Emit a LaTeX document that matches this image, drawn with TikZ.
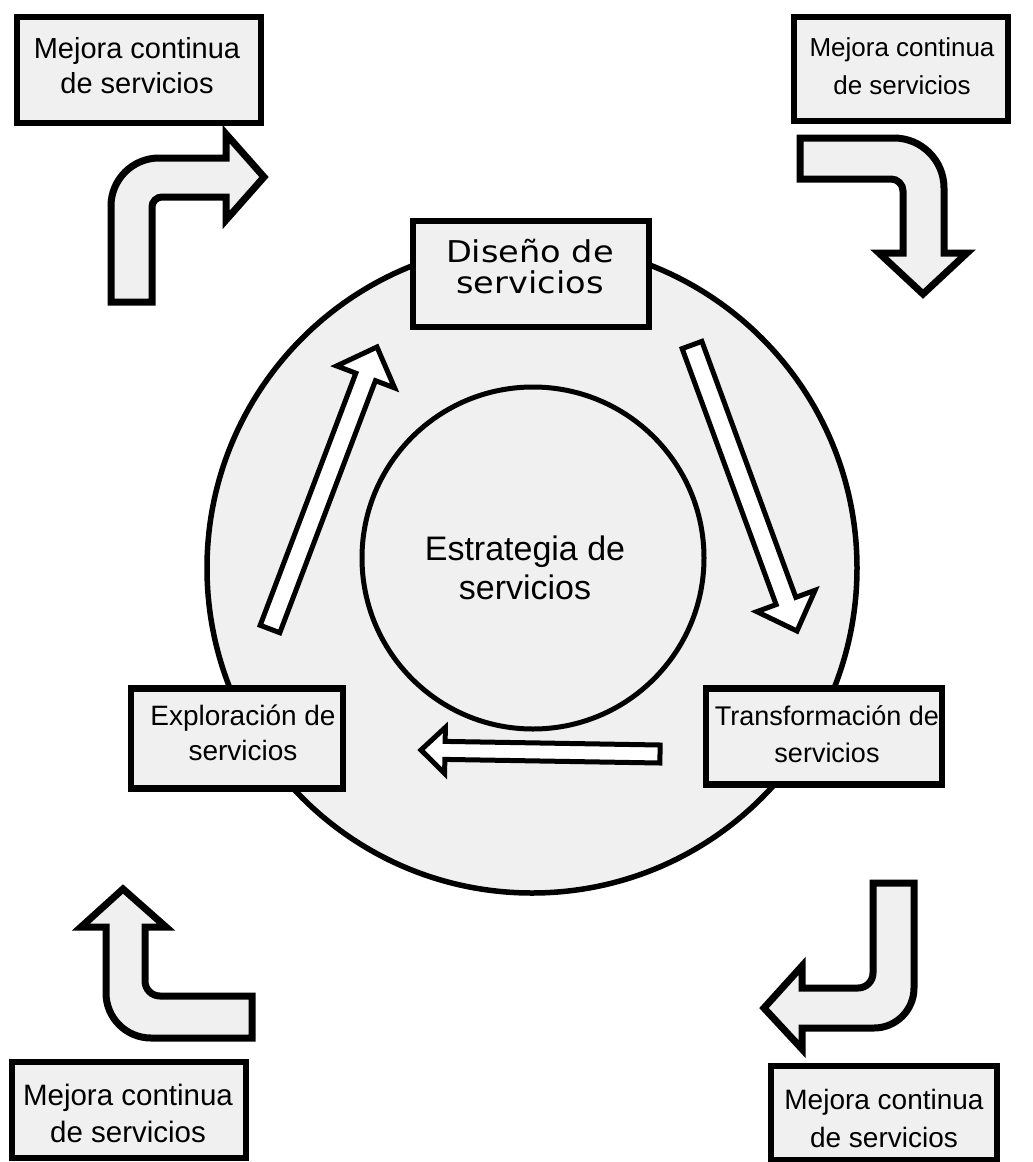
\documentclass[tikz,border=0pt]{standalone}
\usepackage{fontspec}
\setmainfont{Liberation Sans}
\newfontfamily\wfont[FakeStretch=1.12]{DejaVu Sans}
\usetikzlibrary{calc}
\definecolor{fillg}{RGB}{240,240,240}
\tikzset{
  box/.style={draw, rectangle, line width=6.5pt, fill=fillg, inner sep=0pt},
  txt/.style={align=center, inner sep=0pt},
  blk/.style={draw, line width=7pt, fill=fillg, line join=miter},
  thinarrow/.style={draw, line width=5pt, fill=white, line join=miter},
}
\begin{document}
\begin{tikzpicture}[x=1pt,y=-1pt]
\useasboundingbox (0,0) rectangle (1033,1162);
% circles
\node[circle, draw, line width=5.5pt, fill=fillg, minimum size=650pt, inner sep=0pt] (outer) at (532,568) {};
\node[circle, draw, line width=5pt, fill=fillg, minimum size=342pt, inner sep=0pt] (inner) at (533,558) {};
\node[txt, font=\fontsize{34}{39}\selectfont] (inT) at (525,568) {Estrategia de\\servicios};

% boxes
\node[box, minimum width=236pt, minimum height=106pt] (d) at (531,274) {};
\node[txt, font=\wfont\fontsize{30}{31}\selectfont] (dT) at (530,267) {Dise\~no de\\servicios};

\node[box, minimum width=212pt, minimum height=100pt] (e) at (237,738.5) {};
\node[txt, font=\fontsize{28}{35}\selectfont] (eT) at (243,733) {Exploraci\'on de\\servicios};

\node[box, minimum width=236pt, minimum height=96pt] (t) at (824,736.5) {};
\node[txt, font=\fontsize{27}{37}\selectfont] (tT) at (827,734) {Transformaci\'on de\\servicios};

\node[box, minimum width=244pt, minimum height=106pt] (m1) at (139,70) {};
\node[txt, font=\fontsize{29}{35}\selectfont] (m1T) at (137,66) {Mejora continua\\de servicios};

\node[box, minimum width=214pt, minimum height=104pt] (m2) at (901,69) {};
\node[txt, font=\fontsize{26}{38}\selectfont] (m2T) at (902,66) {Mejora continua\\de servicios};

\node[box, minimum width=234pt, minimum height=96pt] (m3) at (129,1110) {};
\node[txt, font=\fontsize{29.5}{37}\selectfont] (m3T) at (128,1113) {Mejora continua\\de servicios};

\node[box, minimum width=226pt, minimum height=94pt] (m4) at (884,1113) {};
\node[txt, font=\fontsize{28}{38}\selectfont] (m4T) at (884,1118) {Mejora continua\\de servicios};

% block arrows
\path[blk] (111,302) -- (111,206) .. controls (111,179.5) and (132.5,158) .. (159,158)
  -- (226,158) -- (226,134) -- (264,177) -- (226,220) -- (226,197) -- (162,197)
  .. controls (156.5,197) and (152,201.5) .. (152,207) -- (152,302) -- cycle;

\path[blk] (800,138) -- (894,138) .. controls (921.6,138) and (944,160.4) .. (944,188)
  -- (944,253) -- (967,253) -- (923,294) -- (879,253) -- (903,253) -- (903,191)
  .. controls (903,184.4) and (897.6,179) .. (891,179) -- (800,179) -- cycle;

\path[blk] (123,889) -- (166,927) -- (145,927) -- (145,981)
  .. controls (145,989.3) and (151.7,996) .. (160,996) -- (252,996) -- (252,1038)
  -- (151,1038) .. controls (126.1,1038) and (106,1017.9) .. (106,993)
  -- (106,927) -- (81,927) -- cycle;

\path[blk] (873,883) -- (914,883) -- (914,988) .. controls (914,1010.1) and (896.1,1028) .. (874,1028)
  -- (802,1028) -- (802,1049) -- (764,1008) -- (802,966) -- (802,988) -- (858,988)
  .. controls (866.3,988) and (873,981.3) .. (873,973) -- cycle;

% thin arrows
\coordinate (aT) at (270,629); \coordinate (aP) at (377,347);
\coordinate (aB) at ($(aP)!32pt!(aT)$);
\path[thinarrow] ($(aT)!10.5pt!90:(aP)$) -- ($(aB)!10.5pt!-90:(aT)$) -- ($(aB)!31pt!-90:(aT)$) -- (aP)
  -- ($(aB)!31pt!90:(aT)$) -- ($(aB)!10.5pt!90:(aT)$) -- ($(aT)!10.5pt!-90:(aP)$) -- cycle;

\coordinate (bT) at (692,345); \coordinate (bP) at (797,631);
\coordinate (bB) at ($(bP)!32pt!(bT)$);
\path[thinarrow] ($(bT)!10.5pt!90:(bP)$) -- ($(bB)!10.5pt!-90:(bT)$) -- ($(bB)!31pt!-90:(bT)$) -- (bP)
  -- ($(bB)!31pt!90:(bT)$) -- ($(bB)!10.5pt!90:(bT)$) -- ($(bT)!10.5pt!-90:(bP)$) -- cycle;

\coordinate (cT) at (660,754); \coordinate (cP) at (421,750);
\coordinate (cB) at ($(cP)!24pt!(cT)$);
\path[thinarrow] ($(cT)!9pt!90:(cP)$) -- ($(cB)!9pt!-90:(cT)$) -- ($(cB)!23pt!-90:(cT)$) -- (cP)
  -- ($(cB)!23pt!90:(cT)$) -- ($(cB)!9pt!90:(cT)$) -- ($(cT)!9pt!-90:(cP)$) -- cycle;
\end{tikzpicture}
\end{document}
